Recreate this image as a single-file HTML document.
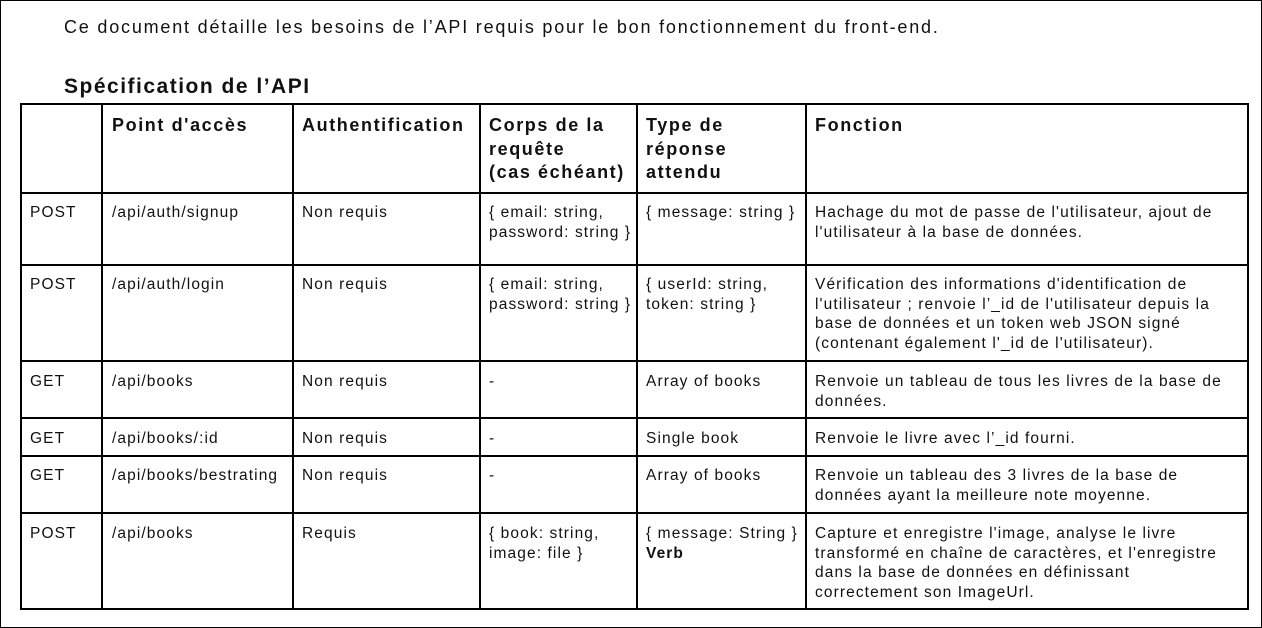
<!DOCTYPE html>
<html><head><meta charset="utf-8"><style>
body{margin:0;width:1262px;height:628px;background:#fff;position:relative;overflow:hidden;font-family:"Liberation Sans",sans-serif;color:#111}
.f{position:absolute;left:0;top:0;width:1260px;height:626px;border:1px solid #000}
.v{position:absolute;width:2px;background:#000;top:103px;height:507px}
.h{position:absolute;height:2px;background:#000;left:20px;width:1229px}
.t{position:absolute;font-size:15.5px;line-height:19.5px;white-space:nowrap;letter-spacing:1.1px}
.b{position:absolute;font-size:18px;line-height:23.5px;font-weight:bold;white-space:nowrap;letter-spacing:1.6px}
</style></head><body>
<div class="f"></div>
<div style="position:absolute;left:64px;top:17px;font-size:18px;white-space:nowrap;letter-spacing:1.8px">Ce document détaille les besoins de l’API requis pour le bon fonctionnement du front-end.</div>
<div style="position:absolute;left:64px;top:75px;font-size:21px;font-weight:bold;white-space:nowrap;letter-spacing:1.5px">Spécification de l’API</div>
<div class="v" style="left:20px"></div><div class="v" style="left:101px"></div><div class="v" style="left:292px"></div><div class="v" style="left:479px"></div><div class="v" style="left:636px"></div><div class="v" style="left:805px"></div><div class="v" style="left:1247px"></div>
<div class="h" style="top:103px"></div><div class="h" style="top:192px"></div><div class="h" style="top:264px"></div><div class="h" style="top:360px"></div><div class="h" style="top:417px"></div><div class="h" style="top:455px"></div><div class="h" style="top:512px"></div><div class="h" style="top:608px"></div>

<div class="b" style="left:112px;top:114px">Point d'accès</div>
<div class="b" style="left:302px;top:114px">Authentification</div>
<div class="b" style="left:489px;top:114px">Corps de la<br>requête<br>(cas échéant)</div>
<div class="b" style="left:646px;top:114px">Type de<br>réponse<br>attendu</div>
<div class="b" style="left:815px;top:114px">Fonction</div>

<div class="t" style="left:30px;top:203px">POST</div>
<div class="t" style="left:112px;top:203px">/api/auth/signup</div>
<div class="t" style="left:302px;top:203px">Non requis</div>
<div class="t" style="left:489px;top:203px">{ email: string,<br>password: string }</div>
<div class="t" style="left:646px;top:203px">{ message: string }</div>
<div class="t" style="left:815px;top:203px">Hachage du mot de passe de l'utilisateur, ajout de<br>l'utilisateur à la base de données.</div>

<div class="t" style="left:30px;top:275px">POST</div>
<div class="t" style="left:112px;top:275px">/api/auth/login</div>
<div class="t" style="left:302px;top:275px">Non requis</div>
<div class="t" style="left:489px;top:275px">{ email: string,<br>password: string }</div>
<div class="t" style="left:646px;top:275px">{ userId: string,<br>token: string }</div>
<div class="t" style="left:815px;top:275px">Vérification des informations d'identification de<br>l'utilisateur ; renvoie l’_id de l'utilisateur depuis la<br>base de données et un token web JSON signé<br>(contenant également l'_id de l'utilisateur).</div>

<div class="t" style="left:30px;top:372px">GET</div>
<div class="t" style="left:112px;top:372px">/api/books</div>
<div class="t" style="left:302px;top:372px">Non requis</div>
<div class="t" style="left:489px;top:372px">-</div>
<div class="t" style="left:646px;top:372px">Array of books</div>
<div class="t" style="left:815px;top:372px">Renvoie un tableau de tous les livres de la base de<br>données.</div>

<div class="t" style="left:30px;top:429px">GET</div>
<div class="t" style="left:112px;top:429px">/api/books/:id</div>
<div class="t" style="left:302px;top:429px">Non requis</div>
<div class="t" style="left:489px;top:429px">-</div>
<div class="t" style="left:646px;top:429px">Single book</div>
<div class="t" style="left:815px;top:429px">Renvoie le livre avec l’_id fourni.</div>

<div class="t" style="left:30px;top:466px">GET</div>
<div class="t" style="left:112px;top:466px">/api/books/bestrating</div>
<div class="t" style="left:302px;top:466px">Non requis</div>
<div class="t" style="left:489px;top:466px">-</div>
<div class="t" style="left:646px;top:466px">Array of books</div>
<div class="t" style="left:815px;top:466px">Renvoie un tableau des 3 livres de la base de<br>données ayant la meilleure note moyenne.</div>

<div class="t" style="left:30px;top:524px">POST</div>
<div class="t" style="left:112px;top:524px">/api/books</div>
<div class="t" style="left:302px;top:524px">Requis</div>
<div class="t" style="left:489px;top:524px">{ book: string,<br>image: file }</div>
<div class="t" style="left:646px;top:524px">{ message: String }<br><b>Verb</b></div>
<div class="t" style="left:815px;top:524px">Capture et enregistre l'image, analyse le livre<br>transformé en chaîne de caractères, et l'enregistre<br>dans la base de données en définissant<br>correctement son ImageUrl.</div>
</body></html>
